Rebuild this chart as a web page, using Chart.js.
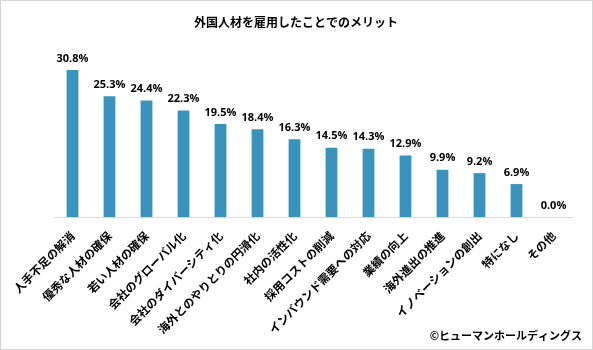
<!DOCTYPE html>
<html>
<head>
<meta charset="utf-8">
<script src="https://cdn.jsdelivr.net/npm/chart.js@4/dist/chart.umd.min.js"></script>
<style>
  html, body { margin: 0; padding: 0; background: #fff; }
  #wrap { width: 593px; height: 350px; position: relative; }
</style>
</head>
<body>
<div id="wrap"><canvas id="chart" width="593" height="350"></canvas></div>
<script>
// === DATA ===

const categories = [
  "人手不足の解消",
  "優秀な人材の確保",
  "若い人材の確保",
  "会社のグローバル化",
  "会社のダイバーシティ化",
  "海外とのやりとりの円滑化",
  "社内の活性化",
  "採用コストの削減",
  "インバウンド需要への対応",
  "業績の向上",
  "海外進出の推進",
  "イノベーションの創出",
  "特になし",
  "その他"
];

const values = [30.8, 25.3, 24.4, 22.3, 19.5, 18.4, 16.3, 14.5, 14.3, 12.9, 9.9, 9.2, 6.9, 0.0];

const titleText = "外国人材を雇用したことでのメリット";
const creditText = "©ヒューマンホールディングス";

const JP = "'Noto Sans CJK JP', 'Noto Sans', sans-serif";

// === PLUGINS ===

const decorations = {
  id: "decorations",
  afterDraw(chart) {
    const c = chart.ctx;
    const meta = chart.getDatasetMeta(0);

    // value labels above bars
    c.save();
    c.fillStyle = "#000";
    c.font = "bold 11px 'Open Sans', sans-serif";
    c.textAlign = "center";
    c.textBaseline = "bottom";
    meta.data.forEach((bar, i) => {
      c.fillText(values[i].toFixed(1) + "%", bar.x, bar.y - 6);
    });

    // title
    c.font = "bold 12px " + JP;
    c.textBaseline = "middle";
    c.fillText(titleText, 296, 22);

    // credit
    c.font = "bold 11px " + JP;
    c.textAlign = "right";
    c.fillText(creditText, 582, 336);

    // frame
    c.strokeStyle = "#d4d4d4";
    c.lineWidth = 1;
    c.strokeRect(0.5, 0.5, chart.width - 1, chart.height - 1);
    c.restore();
  }
};

// === CHART ===

new Chart(document.getElementById("chart"), {
  type: "bar",
  data: {
    labels: categories,
    datasets: [{
      data: values,
      backgroundColor: "#3a93bc",
      barPercentage: 0.58,
      categoryPercentage: 0.55
    }]
  },
  options: {
    responsive: false,
    animation: false,
    layout: { padding: { top: 50, right: 21, left: 54, bottom: 0 } },
    plugins: {
      legend: { display: false },
      tooltip: { enabled: false }
    },
    scales: {
      y: {
        display: false,
        min: 0,
        max: 35
      },
      x: {
        grid: { display: false },
        border: { color: "#d9d9d9" },
        afterFit(scale) {
          // fixed label band, no extra side padding
          scale.height = 133;
          scale.paddingLeft = 0;
          scale.paddingRight = 0;
        },
        ticks: {
          minRotation: 45,
          maxRotation: 45,
          color: "#000",
          padding: 4,
          font: { family: JP, size: 11.5, weight: "bold" }
        }
      }
    }
  },
  plugins: [decorations]
});
</script>
</body>
</html>
